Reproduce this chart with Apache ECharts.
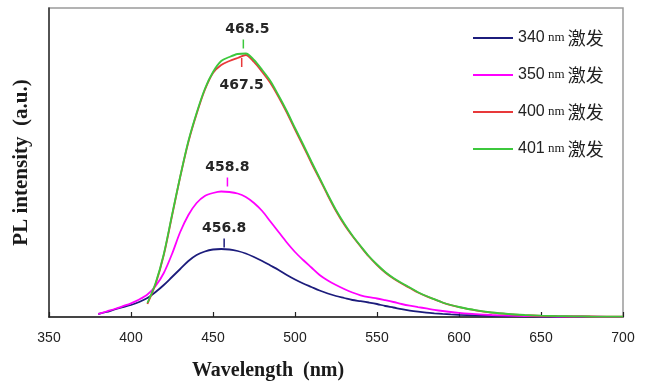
<!DOCTYPE html>
<html>
<head>
<meta charset="utf-8">
<script src="https://cdn.jsdelivr.net/npm/echarts@6/dist/echarts.min.js"></script>
<style>
html,body{margin:0;padding:0;background:#fff;}
#chart{width:646px;height:386px;}
</style>
</head>
<body>
<div id="chart"></div>
<script>
// Wavelength grid (nm)
const wavelengths = [380,385,390,395,400,405,410,415,420,425,430,435,440,445,450,455,460,465,470,475,480,485,490,495,500,505,510,515,520,525,530,535,540,545,550,555,560,565,570,575,580,585,590,595,600,610,620,630,640,650,660,670,680,690,700];

const ex340 = [3,5,7.5,9.8,12,15,19,25,32,40,48,56,62,65.5,67.5,68,67.5,66,63.5,60,56,51.5,47,42,37.5,33.5,30,26.5,23.5,21,19,17,15.8,14.5,13,11,9.5,7.8,6.4,5.3,4.4,3.7,3.1,2.6,2.2,1.6,1.2,0.9,0.7,0.5,0.4,0.3,0.2,0.2,0.1];

const ex350 = [3,5.5,8,10.8,13.7,17.5,22.5,31,44,63,85,102,114,121,124,125.5,125,123.5,120,114,106,95.5,85,74.5,65,57,49.5,42,36.5,32,28,24.5,21.7,19.8,18.5,16.8,15,13,11.3,9.9,8.6,7.2,6,5,4.2,2.9,2,1.4,1,0.7,0.5,0.4,0.3,0.2,0.2];

const ex400 = [null,null,null,null,null,null,13,33,62,101,140,175,203,227,244,252,256,259,262,255,245,234,220,204.5,187.5,171,154,138,121.5,106,92.5,81,70.5,60.5,52,44.5,38.5,33.5,29,24.5,20.8,17.6,14.4,11.9,9.9,6.7,4.4,2.9,1.9,1.2,0.8,0.6,0.5,0.4,0.3];

const ex401 = [null,null,null,null,null,null,14,34,63,102,140.5,176,204,228,245,256,260,263,263.5,257,247,236,221.5,206,189,172.5,155.5,139,122.5,107,93.5,81.5,71,61,52.5,45,39,34,29.5,24.8,21,17.8,14.5,12,10,6.8,4.5,3,2,1.3,0.9,0.7,0.5,0.4,0.3];

const seriesNames = ['340 nm 激发','350 nm 激发','400 nm 激发','401 nm 激发'];
const seriesColors = ['#1c1c7c','#ff00ff','#e8393a','#3cc83c'];

// Peak annotations
const peakLabels = ['456.8','458.8','467.5','468.5'];
const peakWl = [456.8, 458.8, 467.5, 468.5];
const peakTickLevel = [74, 135, 254.5, 273];
const peakLabelSide = ['top','top','bottom','top'];

const xTicks = [350,400,450,500,550,600,650,700];

const allValues = [ex340, ex350, ex400, ex401];

function pairs(vals){
  return wavelengths.map((w,i)=> vals[i]==null ? null : [w, vals[i]]).filter(p=>p);
}

const chart = echarts.init(document.getElementById('chart'), null, {renderer:'canvas'});

const series = allValues.map((vals, i) => ({
  name: seriesNames[i],
  type: 'line',
  data: pairs(vals),
  smooth: 0.3,
  showSymbol: false,
  symbol: 'none',
  lineStyle: {color: seriesColors[i], width: 1.8},
  itemStyle: {color: seriesColors[i]},
  z: 2 + i,
  markPoint: {
    silent: true,
    symbol: 'rect',
    symbolSize: [1.5, 9],
    itemStyle: {color: seriesColors[i]},
    label: {
      show: true,
      position: peakLabelSide[i],
      distance: peakLabelSide[i] === 'bottom' ? 11 : 3,
      offset: i === 3 ? [4, 0] : [0, 0],
      formatter: peakLabels[i],
      fontFamily: 'DejaVu Sans',
      fontWeight: 'bold',
      fontSize: 14,
      color: '#262626'
    },
    data: [{coord: [peakWl[i], peakTickLevel[i]]}]
  }
}));

const option = {
  animation: false,
  backgroundColor: '#fff',
  grid: {
    left: 49, right: 23, top: 8, bottom: 69,
    show: true, borderColor: '#9a9a9a', borderWidth: 1.5, backgroundColor: 'transparent'
  },
  legend: {
    orient: 'vertical',
    left: 473,
    top: 29,
    padding: 0,
    icon: 'rect',
    itemWidth: 40,
    itemHeight: 1.8,
    itemGap: 19,
    data: seriesNames.map((n, i) => ({name: n, itemStyle: {color: seriesColors[i]}})),
    formatter: function(name){
      const p = name.split(' ');
      return '{a|' + p[0] + '}{b| ' + p[1] + ' }{c|' + p[2] + '}';
    },
    textStyle: {
      color: '#222',
      rich: {
        a: {fontFamily: "'Liberation Sans',sans-serif", fontSize: 16, lineHeight: 18, color: '#222'},
        b: {fontFamily: "'Liberation Serif',serif", fontSize: 13, lineHeight: 18, color: '#222'},
        c: {fontFamily: "'Noto Sans CJK SC',sans-serif", fontSize: 18, lineHeight: 18, color: '#222'}
      }
    }
  },
  xAxis: {
    type: 'value',
    min: 350, max: 700, interval: 50,
    name: 'Wavelength  (nm)',
    nameLocation: 'middle',
    nameGap: 44,
    nameTextStyle: {
      fontFamily: "'Liberation Serif',serif", fontWeight: 'bold', fontSize: 20, color: '#1a1a1a',
      padding: [0, 136, 0, 0]
    },
    axisLine: {show: true, onZero: false, lineStyle: {color: '#222', width: 1.5}},
    axisTick: {show: true, inside: true, length: 5, lineStyle: {color: '#222', width: 1.2}},
    axisLabel: {
      margin: 14,
      fontFamily: "'Liberation Sans',sans-serif",
      fontSize: 14, color: '#222',
      formatter: function(v){ return xTicks.indexOf(v) >= 0 ? String(v) : ''; }
    },
    splitLine: {show: false}
  },
  yAxis: {
    type: 'value',
    min: 0, max: 309,
    name: 'PL intensity  (a.u.)',
    nameLocation: 'middle',
    nameGap: 17,
    nameTextStyle: {fontFamily: "'Liberation Serif',serif", fontWeight: 'bold', fontSize: 21, color: '#1a1a1a'},
    axisLine: {show: true, onZero: false, lineStyle: {color: '#333', width: 1.5}},
    axisTick: {show: false},
    axisLabel: {show: false},
    splitLine: {show: false}
  },
  series: series
};

chart.setOption(option);
</script>
</body>
</html>
